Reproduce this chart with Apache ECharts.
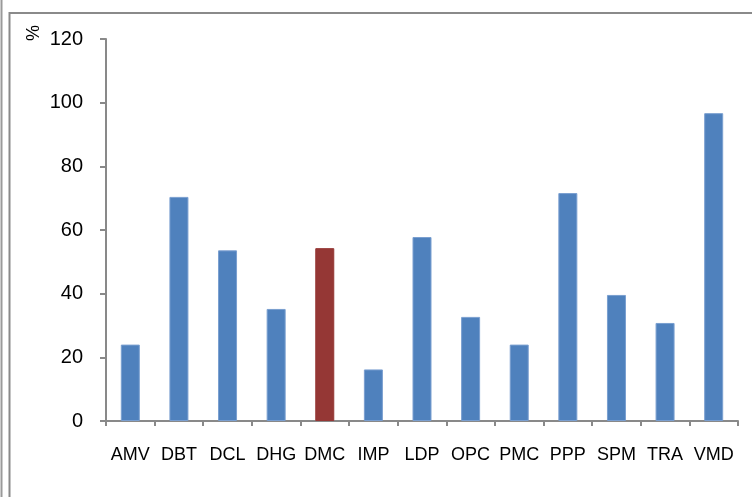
<!DOCTYPE html>
<html><head><meta charset="utf-8">
<script src="https://cdn.jsdelivr.net/npm/echarts@6/dist/echarts.min.js"></script>
<style>html,body{margin:0;padding:0;background:#fff}#c{width:752px;height:497px}</style>
</head><body><div id="c"></div>
<script>
var categories = ['AMV','DBT','DCL','DHG','DMC','IMP','LDP','OPC','PMC','PPP','SPM','TRA','VMD'];
var values = [24, 70.4, 53.6, 35.2, 54.3, 16.2, 57.8, 32.7, 24, 71.6, 39.6, 30.8, 96.7];
var highlight = 'DMC';
var yTicks = {min: 0, max: 120, interval: 20};
var yUnit = '%';

var chart = echarts.init(document.getElementById('c'), null, {renderer: 'canvas'});
var axisGray = '#898989';
var ff = 'Liberation Sans, Arial, sans-serif';
chart.setOption({
  animation: false,
  grid: {left: 106, right: 14, top: 39, bottom: 76},
  graphic: [
    {type: 'rect', shape: {x: 9.5, y: 13, width: 800, height: 600}, style: {fill: 'none', stroke: '#8a8a8a', lineWidth: 2}},
    {type: 'line', shape: {x1: 1.5, y1: 0, x2: 1.5, y2: 497}, style: {stroke: '#9a9a9a', lineWidth: 2}},
    {type: 'text', x: 31, y: 33, rotation: -Math.PI / 2,
     style: {text: yUnit, fontSize: 18, fontFamily: ff, fill: '#000', align: 'center', verticalAlign: 'middle'}}
  ],
  xAxis: {
    type: 'category', data: categories, boundaryGap: true,
    axisLine: {lineStyle: {color: axisGray, width: 2}},
    axisTick: {show: true, length: 5, alignWithLabel: false, lineStyle: {color: axisGray, width: 2}},
    axisLabel: {color: '#000', fontSize: 18, fontFamily: ff, margin: 25, interval: 0}
  },
  yAxis: {
    type: 'value', min: yTicks.min, max: yTicks.max, interval: yTicks.interval,
    splitLine: {show: false},
    axisLine: {show: true, lineStyle: {color: axisGray, width: 2}},
    axisTick: {show: true, length: 6, lineStyle: {color: axisGray, width: 2}},
    axisLabel: {color: '#000', fontSize: 20, fontFamily: ff, margin: 23}
  },
  series: [{
    type: 'bar', barWidth: 19,
    data: values.map(function (v, i) {
      var red = categories[i] === highlight;
      return {value: v, itemStyle: {color: red ? '#953735' : '#4f81bd', borderColor: red ? '#953735' : '#7a9fd0', borderWidth: 1}};
    })
  }]
});
</script></body></html>
